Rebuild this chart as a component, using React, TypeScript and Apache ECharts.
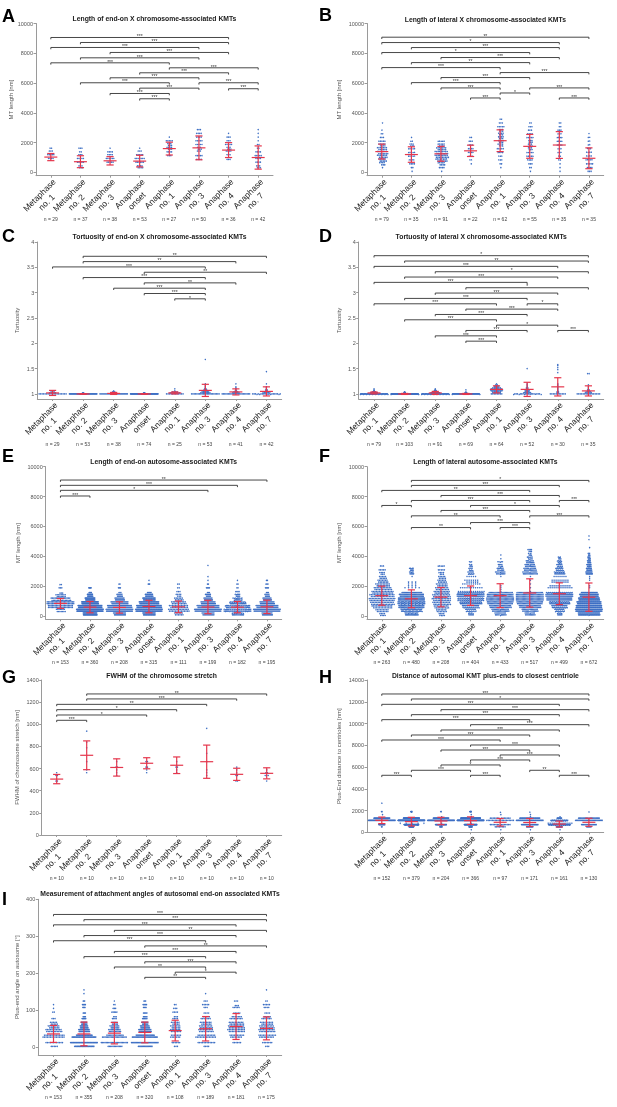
import React, { useEffect, useRef } from "react";
import * as echarts from "echarts";

const FONT = "'Liberation Sans', Arial, Helvetica, sans-serif";
const DOT = "#3d6fc4";
const RED = "#e5364c";
const AXIS = "#9a9a9a";

const CATEGORIES = [
  "Metaphase\nno. 1",
  "Metaphase\nno. 2",
  "Metaphase\nno. 3",
  "Anaphase\nonset",
  "Anaphase\nno. 1",
  "Anaphase\nno. 3",
  "Anaphase\nno. 4",
  "Anaphase\nno. 7",
];

const LEN_TICKS = [0, 2000, 4000, 6000, 8000, 10000];
const TORT_TICKS = [1, 1.5, 2, 2.5, 3, 3.5, 4];
const FWHM_TICKS = [0, 200, 400, 600, 800, 1000, 1200, 1400];
const DIST_TICKS = [0, 2000, 4000, 6000, 8000, 10000, 12000, 14000];
const ANGLE_TICKS = [0, 100, 200, 300, 400];

// ---------- Panel A ----------
const A_N = [29, 37, 38, 53, 27, 50, 36, 42];
const A_MEAN = [1030, 720, 780, 760, 1600, 1650, 1500, 1000];
const A_SD = [240, 400, 280, 390, 430, 800, 500, 780];
const A_COUNTS = [
  [0, 0, 3, 8, 10, 6, 2],
  [2, 6, 9, 9, 6, 2, 3],
  [0, 4, 10, 12, 7, 4, 1],
  [2, 8, 12, 14, 10, 6, 1],
  [1, 0, 0, 0, 3, 4, 7, 6, 5, 1],
  [1, 2, 3, 4, 5, 6, 6, 5, 5, 4, 4, 3, 2],
  [0, 0, 2, 3, 6, 7, 6, 5, 3, 3, 1],
  [3, 6, 8, 7, 5, 4, 2, 2, 1, 1, 1, 1, 0, 1],
];
const A_SIG: [number, number, number, string][] = [
  [1, 7, 9060, "***"], [2, 7, 8725, "***"], [1, 6, 8390, "***"], [3, 7, 8055, "***"],
  [2, 6, 7695, "***"], [1, 5, 7360, "***"], [5, 8, 7025, "***"], [4, 7, 6690, "***"],
  [3, 6, 6355, "***"], [2, 5, 6020, "***"], [6, 8, 6020, "***"], [4, 6, 5660, "***"],
  [7, 8, 5620, "***"], [3, 5, 5300, "***"], [4, 5, 4945, "***"],
];

// ---------- Panel B ----------
const B_N = [79, 35, 91, 22, 62, 55, 35, 35];
const B_MEAN = [1400, 1200, 1250, 1450, 2130, 1750, 1840, 950];
const B_SD = [500, 520, 500, 380, 730, 800, 900, 700];
const B_COUNTS = [
  [0, 1, 7, 10, 13, 14, 13, 9, 5, 3, 2, 1, 0, 1],
  [1, 2, 4, 4, 5, 5, 5, 6, 2, 1],
  [1, 4, 9, 15, 18, 17, 13, 9, 5],
  [0, 0, 1, 2, 3, 4, 4, 3, 3, 2],
  [0, 1, 2, 3, 3, 4, 5, 7, 7, 7, 7, 6, 5, 3, 2],
  [1, 2, 3, 4, 5, 5, 6, 6, 6, 5, 4, 3, 3, 2],
  [1, 1, 1, 2, 2, 3, 3, 4, 4, 4, 3, 3, 2, 2],
  [3, 4, 5, 5, 4, 4, 3, 2, 2, 2, 1],
];
const B_SIG: [number, number, number, string][] = [
  [1, 8, 9080, "**"], [1, 7, 8720, "*"], [2, 7, 8385, "***"], [1, 6, 8050, "*"],
  [3, 7, 7715, "***"], [2, 6, 7375, "**"], [1, 5, 7040, "***"], [5, 8, 6705, "***"],
  [3, 6, 6370, "***"], [2, 5, 6030, "***"], [3, 5, 5675, "***"], [6, 8, 5675, "***"],
  [5, 6, 5335, "*"], [4, 5, 5000, "***"], [7, 8, 5000, "***"],
];

// ---------- Panel C ----------
const C_N = [29, 53, 38, 74, 25, 53, 41, 42];
const C_MEAN = [1.02, 1.0, 1.01, 1.0, 1.02, 1.07, 1.04, 1.05];
const C_SD = [0.05, 0.005, 0.02, 0.005, 0.02, 0.12, 0.06, 0.09];
const C_COUNTS = [
  [19, 5, 3, 1, 0, 0, 0, 0, 0, 0, 0, 0, 0, 0, 1],
  [50, 3],
  [28, 6, 3, 1],
  [70, 4],
  [12, 7, 4, 1, 0, 1],
  [22, 8, 6, 4, 3, 2, 1, 1, 1, 0, 1, 0, 1, 0, 0, 0, 1, 0, 0, 1, 0, 0, 0, 0, 0, 0, 0, 0, 0, 0, 0, 0, 0, 0, 1],
  [23, 6, 4, 2, 1, 1, 1, 1, 0, 0, 1, 0, 0, 1],
  [21, 6, 4, 2, 2, 1, 1, 1, 0, 0, 1, 0, 1, 0, 0, 1, 0, 0, 0, 0, 0, 0, 1],
];
const C_SIG: [number, number, number, string][] = [
  [2, 8, 3.718, "**"], [2, 7, 3.613, "**"], [1, 6, 3.508, "***"], [4, 8, 3.403, "**"],
  [2, 6, 3.298, "***"], [4, 7, 3.193, "**"], [3, 6, 3.088, "***"], [4, 6, 2.983, "***"],
  [5, 6, 2.878, "*"],
];

// ---------- Panel D ----------
const D_N = [79, 103, 91, 69, 64, 52, 30, 35];
const D_MEAN = [1.02, 1.0, 1.02, 1.0, 1.09, 1.09, 1.14, 1.06];
const D_SD = [0.02, 0.01, 0.03, 0.01, 0.07, 0.14, 0.18, 0.1];
const D_COUNTS = [
  [55, 14, 6, 2, 1, 1],
  [95, 6, 2],
  [55, 18, 10, 5, 2, 1],
  [62, 5, 1, 0, 1],
  [8, 6, 6, 8, 9, 8, 6, 4, 3, 2, 1, 1, 1, 0, 1],
  [21, 6, 5, 4, 3, 2, 2, 1, 1, 1, 1, 1, 1, 0, 0, 1, 0, 0, 0, 0, 0, 0, 0, 0, 0, 1, 0, 0, 0, 0, 0, 0, 0, 0, 0, 0, 0, 0, 0, 0, 0, 0, 1],
  [11, 2, 2, 1, 1, 1, 1, 1, 1, 1, 1, 0, 1, 0, 0, 1, 0, 0, 0, 0, 0, 1, 0, 0, 1, 0, 1, 0, 1, 1],
  [16, 5, 4, 2, 2, 1, 1, 1, 0, 1, 0, 0, 0, 0, 0, 0, 0, 0, 0, 0, 2],
];
const D_SIG: [number, number, number, string][] = [
  [1, 8, 3.73, "*"], [2, 8, 3.624, "**"], [1, 7, 3.519, "***"], [3, 8, 3.413, "*"],
  [2, 7, 3.308, "***"], [1, 6, 3.203, "***"], [4, 8, 3.097, "*"], [3, 7, 2.992, "***"],
  [2, 6, 2.886, "***"], [1, 5, 2.78, "***"], [6, 7, 2.78, "*"], [4, 7, 2.675, "***"],
  [3, 6, 2.569, "***"], [2, 5, 2.464, "***"], [5, 7, 2.358, "*"], [4, 6, 2.253, "***"],
  [7, 8, 2.253, "***"], [3, 5, 2.147, "***"], [4, 5, 2.042, "***"],
];

// ---------- Panel E ----------
const E_N = [153, 360, 208, 315, 111, 199, 182, 195];
const E_MEAN = [830, 580, 560, 620, 600, 590, 580, 600];
const E_SD = [330, 380, 380, 420, 390, 450, 380, 450];
const E_COUNTS = [
  [3, 14, 38, 42, 30, 15, 6, 3, 2],
  [50, 95, 85, 60, 35, 20, 10, 5],
  [25, 55, 50, 35, 20, 12, 6, 3, 2],
  [35, 75, 70, 55, 35, 22, 12, 7, 3, 1],
  [12, 28, 25, 20, 12, 7, 3, 2, 2],
  [25, 55, 45, 30, 18, 11, 6, 4, 2, 1, 1, 0, 0, 1],
  [22, 50, 45, 30, 17, 9, 4, 2, 2, 1],
  [22, 55, 45, 30, 18, 10, 6, 4, 3, 2],
];
const E_SIG: [number, number, number, string][] = [
  [1, 8, 9105, "**"], [1, 7, 8750, "***"], [1, 6, 8415, "*"], [1, 2, 8035, "***"],
];

// ---------- Panel F ----------
const F_N = [263, 480, 208, 404, 433, 517, 499, 672];
const F_MEAN = [1350, 1140, 1250, 1350, 1350, 1530, 1480, 1250];
const F_SD = [640, 600, 650, 650, 800, 950, 730, 950];
const F_COUNTS = [
  [8, 17, 27, 32, 35, 33, 29, 24, 19, 14, 10, 7, 5, 3],
  [30, 48, 58, 62, 60, 55, 47, 38, 29, 20, 14, 10, 9],
  [8, 14, 20, 24, 25, 24, 21, 18, 15, 12, 10, 7, 5, 5],
  [10, 20, 32, 42, 50, 52, 50, 42, 34, 25, 18, 12, 8, 6, 3],
  [20, 30, 38, 45, 48, 46, 42, 37, 32, 27, 22, 17, 12, 8, 5, 3, 1],
  [18, 28, 38, 45, 48, 48, 46, 42, 38, 34, 30, 26, 22, 18, 14, 9, 6, 7],
  [10, 20, 32, 42, 52, 56, 55, 50, 44, 37, 30, 22, 16, 12, 9, 6, 4, 2],
  [64, 79, 76, 71, 62, 55, 48, 42, 36, 30, 25, 20, 16, 13, 10, 8, 6, 4, 3, 2, 1, 1],
];
const F_SIG: [number, number, number, string][] = [
  [2, 8, 9080, "*"], [2, 7, 8745, "***"], [1, 6, 8410, "**"], [3, 7, 8070, "***"],
  [2, 6, 7735, "***"], [7, 8, 7735, "***"], [1, 2, 7400, "*"], [4, 7, 7400, "*"],
  [3, 6, 7065, "***"], [2, 5, 6705, "**"], [6, 8, 6705, "***"], [4, 6, 6255, "***"],
  [2, 4, 5920, "**"], [5, 6, 5920, "***"],
];

// ---------- Panel G ----------
const G_N = [10, 10, 10, 10, 10, 10, 10, 10];
const G_MEAN = [505, 720, 610, 648, 630, 662, 548, 557];
const G_SD = [42, 130, 78, 50, 75, 150, 55, 50];
const G_COUNTS = [
  [0, 0, 2, 2, 3, 2, 1],
  [0, 0, 0, 0, 0, 0, 1, 1, 0, 1, 1, 1, 1, 0, 1, 1, 0, 1, 0, 0, 0, 1],
  [0, 0, 1, 0, 0, 1, 1, 1, 2, 1, 1, 1, 1],
  [0, 0, 0, 0, 0, 0, 1, 1, 2, 1, 2, 1, 1, 0, 1],
  [0, 0, 1, 0, 0, 0, 1, 1, 2, 2, 1, 1, 1],
  [0, 0, 1, 0, 0, 1, 1, 1, 0, 1, 1, 1, 0, 1, 0, 0, 1, 0, 0, 0, 0, 0, 1],
  [0, 0, 0, 2, 2, 2, 1, 1, 1, 0, 0, 1],
  [0, 0, 0, 1, 2, 3, 2, 1, 0, 0, 0, 1],
];
const G_SIG: [number, number, number, string][] = [
  [2, 8, 1274, "**"], [2, 7, 1229, "***"], [1, 6, 1180, "**"], [1, 5, 1132, "*"],
  [1, 4, 1084, "*"], [1, 2, 1036, "***"],
];

// ---------- Panel H ----------
const H_N = [152, 379, 204, 366, 97, 171, 161, 130];
const H_MEAN = [1100, 980, 1040, 1070, 920, 900, 760, 920];
const H_SD = [300, 400, 340, 350, 350, 370, 270, 370];
const H_COUNTS = [
  [0, 0, 2, 12, 38, 50, 30, 12, 5, 2, 0, 0, 0, 1],
  [0, 4, 18, 55, 95, 100, 60, 30, 12, 5],
  [0, 0, 6, 25, 55, 60, 35, 15, 6, 2],
  [0, 3, 12, 45, 85, 95, 70, 35, 15, 6],
  [0, 3, 8, 15, 20, 20, 15, 10, 5, 1],
  [0, 3, 10, 25, 40, 40, 30, 15, 7, 1],
  [0, 3, 12, 45, 55, 35, 10, 1],
  [0, 2, 6, 18, 30, 32, 25, 12, 4, 1],
];
const H_SIG: [number, number, number, string][] = [
  [1, 8, 12715, "***"], [2, 8, 12255, "*"], [1, 7, 11765, "***"], [3, 8, 11275, "***"],
  [2, 7, 10815, "***"], [1, 6, 10355, "***"], [4, 8, 9895, "***"], [3, 7, 9405, "***"],
  [2, 6, 8945, "***"], [1, 5, 8485, "***"], [4, 7, 8025, "***"], [3, 6, 7565, "***"],
  [5, 7, 7110, "***"], [4, 6, 6650, "***"], [3, 5, 6190, "*"], [2, 4, 5700, "***"],
  [6, 7, 5700, "**"], [1, 2, 5240, "***"], [4, 5, 5240, "***"], [7, 8, 5240, "***"],
];

// ---------- Panel I ----------
const I_N = [153, 355, 208, 320, 108, 189, 181, 175];
const I_MEAN = [36, 36, 38, 40, 45, 50, 56, 51];
const I_SD = [23, 32, 29, 28, 28, 33, 35, 31];
const I_COUNTS = [
  [10, 25, 30, 28, 22, 15, 10, 6, 3, 2, 1, 1],
  [55, 75, 65, 45, 30, 22, 16, 12, 9, 8, 7, 5, 3, 1, 1, 1],
  [25, 45, 40, 28, 20, 15, 10, 8, 6, 5, 3, 2, 1],
  [35, 65, 60, 45, 30, 22, 15, 12, 10, 10, 8, 5, 3],
  [6, 12, 14, 15, 14, 13, 11, 8, 6, 4, 3, 2],
  [8, 25, 28, 25, 20, 18, 15, 13, 11, 8, 6, 5, 3, 2, 1, 0, 1],
  [5, 12, 16, 20, 23, 22, 20, 18, 14, 11, 9, 6, 3, 1, 0, 0, 0, 1],
  [7, 15, 20, 24, 22, 20, 17, 14, 11, 9, 7, 5, 2, 1, 0, 1],
];
const I_SIG: [number, number, number, string][] = [
  [1, 8, 359, "***"], [2, 8, 345, "***"], [1, 7, 331, "***"], [3, 8, 316, "**"],
  [2, 7, 302, "***"], [1, 6, 288, "***"], [4, 8, 274, "**"], [3, 7, 259, "***"],
  [2, 6, 245, "***"], [4, 7, 231, "***"], [3, 6, 217, "**"], [5, 7, 203, "*"],
  [4, 6, 189, "**"],
];

type Panel = {
  letter: string; title: string; yName: string;
  n: number[]; mean: number[]; sd: number[]; counts: number[][];
  binStart: number; binWidth: number;
  sig: [number, number, number, string][];
  ticks: number[]; yMin: number; yMax: number;
  box: { l: number; r: number; t: number; b: number };
  nameGap: number; titleY: number; letterX: number; letterY: number; nOffset: number;
};

const PANELS: Panel[] = [
  { letter: "A", title: "Length of end-on X chromosome-associated KMTs", yName: "MT length [nm]",
    n: A_N, mean: A_MEAN, sd: A_SD, counts: A_COUNTS, binStart: 0, binWidth: 250, sig: A_SIG,
    ticks: LEN_TICKS, yMin: -220, yMax: 10000, box: { l: 36, r: 273, t: 23.5, b: 175.7 },
    nameGap: 22.5, titleY: 18.3, letterX: 2, letterY: 15.5, nOffset: 40.3 },
  { letter: "B", title: "Length of lateral X chromosome-associated KMTs", yName: "MT length [nm]",
    n: B_N, mean: B_MEAN, sd: B_SD, counts: B_COUNTS, binStart: 0, binWidth: 250, sig: B_SIG,
    ticks: LEN_TICKS, yMin: -220, yMax: 10000, box: { l: 367, r: 603.7, t: 23.5, b: 175.7 },
    nameGap: 25, titleY: 19, letterX: 319, letterY: 15, nOffset: 40.3 },
  { letter: "C", title: "Tortuosity of end-on X chromosome-associated KMTs", yName: "Tortuosity",
    n: C_N, mean: C_MEAN, sd: C_SD, counts: C_COUNTS, binStart: 0.99, binWidth: 0.02, sig: C_SIG,
    ticks: TORT_TICKS, yMin: 0.9, yMax: 4, box: { l: 37.3, r: 281.7, t: 242, b: 399 },
    nameGap: 17.6, titleY: 236.7, letterX: 2, letterY: 235.8, nOffset: 42.5 },
  { letter: "D", title: "Tortuosity of lateral X chromosome-associated KMTs", yName: "Tortuosity",
    n: D_N, mean: D_MEAN, sd: D_SD, counts: D_COUNTS, binStart: 0.99, binWidth: 0.02, sig: D_SIG,
    ticks: TORT_TICKS, yMin: 0.9, yMax: 4, box: { l: 358.7, r: 603.7, t: 242, b: 399 },
    nameGap: 16.4, titleY: 236.7, letterX: 319, letterY: 235.8, nOffset: 42.5 },
  { letter: "E", title: "Length of end-on autosome-associated KMTs", yName: "MT length [nm]",
    n: E_N, mean: E_MEAN, sd: E_SD, counts: E_COUNTS, binStart: 0, binWidth: 250, sig: E_SIG,
    ticks: LEN_TICKS, yMin: -235, yMax: 10000, box: { l: 45.7, r: 281.7, t: 466.7, b: 619.3 },
    nameGap: 24.4, titleY: 461.7, letterX: 2, letterY: 455.8, nOffset: 40 },
  { letter: "F", title: "Length of lateral autosome-associated KMTs", yName: "MT length [nm]",
    n: F_N, mean: F_MEAN, sd: F_SD, counts: F_COUNTS, binStart: 0, binWidth: 250, sig: F_SIG,
    ticks: LEN_TICKS, yMin: -235, yMax: 10000, box: { l: 367, r: 603.7, t: 466.7, b: 619.3 },
    nameGap: 24.7, titleY: 461.7, letterX: 319, letterY: 455.8, nOffset: 40 },
  { letter: "G", title: "FWHM of the chromosome stretch", yName: "FWHM of chromosome stretch [nm]",
    n: G_N, mean: G_MEAN, sd: G_SD, counts: G_COUNTS, binStart: 400, binWidth: 25, sig: G_SIG,
    ticks: FWHM_TICKS, yMin: 0, yMax: 1400, box: { l: 41.7, r: 281.7, t: 680, b: 835 },
    nameGap: 22, titleY: 675.7, letterX: 2, letterY: 677.3, nOffset: 40.8 },
  { letter: "H", title: "Distance of autosomal KMT plus-ends to closest centriole", yName: "Plus-End distance to centrioles [nm]",
    n: H_N, mean: H_MEAN, sd: H_SD, counts: H_COUNTS, binStart: 0, binWidth: 200, sig: H_SIG,
    ticks: DIST_TICKS, yMin: 0, yMax: 14000, box: { l: 367, r: 603.7, t: 680, b: 832.3 },
    nameGap: 24.7, titleY: 675.7, letterX: 319, letterY: 677.3, nOffset: 43.5 },
  { letter: "I", title: "Measurement of attachment angles of autosomal end-on associated KMTs", yName: "Plus-end angle on autosome [°]",
    n: I_N, mean: I_MEAN, sd: I_SD, counts: I_COUNTS, binStart: 0, binWidth: 10, sig: I_SIG,
    ticks: ANGLE_TICKS, yMin: -21, yMax: 400, box: { l: 38.3, r: 281.7, t: 899.3, b: 1055 },
    nameGap: 18.6, titleY: 893.7, letterX: 2, letterY: 898.8, nOffset: 39.5 },
];

const GAP = 1.5;

function rowsFor(c: number, binPx: number) {
  const r = Math.max(1, Math.floor(binPx / GAP));
  return Math.min(r, Math.max(1, Math.ceil(c / 5)));
}

// layout of one histogram bin as a row-based swarm; the widest bin of each group fills the band
function dotRenderer(binWidth: number) {
  return (params: any, api: any) => {
    const cat = api.value(0);
    const v = api.value(1);
    const c = api.value(2);
    const gmax = api.value(3);
    const pt = api.coord([cat, v]);
    const binPx = Math.abs(api.size([0, binWidth])[1]);
    const band = api.size([1, 0])[0];
    const maxW = band * 0.9;
    const rowsMax = rowsFor(gmax, binPx);
    const perMax = Math.ceil(gmax / rowsMax);
    const sp = perMax > 1 ? Math.min(GAP, maxW / (perMax - 1)) : GAP;
    const rows = rowsFor(c, binPx);
    const per = Math.ceil(c / rows);
    const children: any[] = [];
    let left = c;
    for (let r = 0; r < rows && left > 0; r++) {
      const k = Math.min(per, left);
      left -= k;
      const y = pt[1] + (rows === 1 ? 0 : (r - (rows - 1) / 2) * (binPx / rows));
      const shift = r % 2 === 1 && (k + 1) * sp < maxW ? sp / 2 : 0;
      for (let j = 0; j < k; j++) {
        const x = pt[0] + (j - (k - 1) / 2) * sp + shift;
        children.push({ type: "circle", shape: { cx: x, cy: y, r: 0.72 }, style: { fill: DOT } });
      }
    }
    return { type: "group", children, silent: true };
  };
}

function errRenderer(params: any, api: any) {
  const cat = api.value(0);
  const m = api.value(1);
  const s = api.value(2);
  const c = api.coord([cat, m]);
  const top = api.coord([cat, m + s]);
  const bot = api.coord([cat, m - s]);
  const st = { stroke: RED, lineWidth: 1.2 };
  return {
    type: "group",
    silent: true,
    children: [
      { type: "line", shape: { x1: c[0], y1: top[1], x2: c[0], y2: bot[1] }, style: st },
      { type: "line", shape: { x1: c[0] - 3.6, y1: top[1], x2: c[0] + 3.6, y2: top[1] }, style: st },
      { type: "line", shape: { x1: c[0] - 3.6, y1: bot[1], x2: c[0] + 3.6, y2: bot[1] }, style: st },
      { type: "line", shape: { x1: c[0] - 6.5, y1: c[1], x2: c[0] + 6.5, y2: c[1] }, style: st },
    ],
  };
}

function sigRenderer(sig: [number, number, number, string][]) {
  return (params: any, api: any) => {
    const a = api.coord([api.value(0), api.value(2)]);
    const b = api.coord([api.value(1), api.value(2)]);
    const stars = sig[params.dataIndex][3];
    return {
      type: "group",
      silent: true,
      children: [
        {
          type: "polyline",
          shape: { points: [[a[0], a[1] + 1.8], [a[0], a[1]], [b[0], b[1]], [b[0], b[1] + 1.8]] },
          style: { stroke: "#333", lineWidth: 0.9, fill: null },
        },
        {
          type: "text",
          x: (a[0] + b[0]) / 2,
          y: a[1] - 1.3,
          style: { text: stars, fontSize: 5, fontFamily: FONT, fill: "#333", align: "center", verticalAlign: "middle" },
        },
      ],
    };
  };
}

function buildOption() {
  const grid: any[] = [];
  const xAxis: any[] = [];
  const yAxis: any[] = [];
  const series: any[] = [];
  const graphic: any[] = [];

  PANELS.forEach((p, i) => {
    grid.push({
      left: p.box.l, top: p.box.t, width: p.box.r - p.box.l, height: p.box.b - p.box.t,
      containLabel: false, outerBoundsMode: "none",
    });
    xAxis.push({
      type: "category", gridIndex: i, data: CATEGORIES, boundaryGap: true,
      axisLine: { onZero: false, lineStyle: { color: AXIS, width: 1 } },
      axisTick: { show: true, alignWithLabel: true, length: 2, lineStyle: { color: AXIS } },
      splitLine: { show: false },
      axisLabel: {
        interval: 0, rotate: 45, margin: 1, verticalAlign: "top",
        fontSize: 8.5, lineHeight: 10, color: "#222", fontFamily: FONT,
        formatter: (v: string) => v.split("\n").map((s) => `{c|${s}}`).join("\n"),
        rich: { c: { align: "center", fontSize: 8.5, lineHeight: 10, color: "#222", fontFamily: FONT } },
      },
    });
    xAxis.push({
      type: "category", gridIndex: i, data: p.n.map((v) => `n = ${v}`), position: "bottom",
      offset: p.nOffset, boundaryGap: true,
      axisLine: { show: false, onZero: false }, axisTick: { show: false }, splitLine: { show: false },
      axisLabel: { interval: 0, margin: 0, fontSize: 5, color: "#444", fontFamily: FONT, verticalAlign: "top" },
    });
    yAxis.push({
      type: "value", gridIndex: i, min: p.yMin, max: p.yMax, splitLine: { show: false },
      axisLine: { show: true, lineStyle: { color: AXIS, width: 1 } },
      axisTick: { show: true, length: 2.5, customValues: p.ticks, lineStyle: { color: AXIS } },
      axisLabel: { customValues: p.ticks, fontSize: 5.5, color: "#555", margin: 3, fontFamily: FONT,
        formatter: (v: number) => String(v) },
      name: p.yName, nameLocation: "middle", nameGap: p.nameGap,
      nameTextStyle: { fontSize: 6, color: "#555", fontFamily: FONT },
    });

    const dotData: number[][] = [];
    p.counts.forEach((arr, g) => {
      const gmax = Math.max(...arr);
      arr.forEach((c, b) => {
        if (c > 0) dotData.push([g, p.binStart + (b + 0.5) * p.binWidth, c, gmax]);
      });
    });
    series.push({
      type: "custom", xAxisIndex: 2 * i, yAxisIndex: i, data: dotData, z: 2,
      renderItem: dotRenderer(p.binWidth), silent: true, clip: false,
    });
    series.push({
      type: "custom", xAxisIndex: 2 * i, yAxisIndex: i, z: 3,
      data: p.mean.map((m, g) => [g, m, p.sd[g]]), renderItem: errRenderer, silent: true, clip: false,
    });
    series.push({
      type: "custom", xAxisIndex: 2 * i, yAxisIndex: i, z: 4,
      data: p.sig.map((s) => [s[0] - 1, s[1] - 1, s[2]]), renderItem: sigRenderer(p.sig), silent: true, clip: false,
    });

    graphic.push({
      type: "text", x: (p.box.l + p.box.r) / 2, y: p.titleY, silent: true,
      style: { text: p.title, fontSize: 6.8, fontWeight: "bold", fontFamily: FONT, fill: "#1a1a1a", align: "center", verticalAlign: "middle" },
    });
    graphic.push({
      type: "text", x: p.letterX, y: p.letterY, silent: true,
      style: { text: p.letter, fontSize: 18, fontWeight: "bold", fontFamily: FONT, fill: "#000", align: "left", verticalAlign: "middle" },
    });
  });

  return { animation: false, backgroundColor: "#ffffff", grid, xAxis, yAxis, series, graphic, tooltip: { show: false } };
}

export default function App() {
  const ref = useRef<HTMLDivElement>(null);
  useEffect(() => {
    if (!ref.current) return;
    const chart = echarts.init(ref.current, null, { renderer: "svg" });
    chart.setOption(buildOption() as any);
    return () => chart.dispose();
  }, []);
  return (
    <div
      ref={ref}
      style={{
        position: "absolute", left: 0, top: 0, width: 617, height: 1107, background: "#fff",
        willChange: "transform",
      }}
    />
  );
}
